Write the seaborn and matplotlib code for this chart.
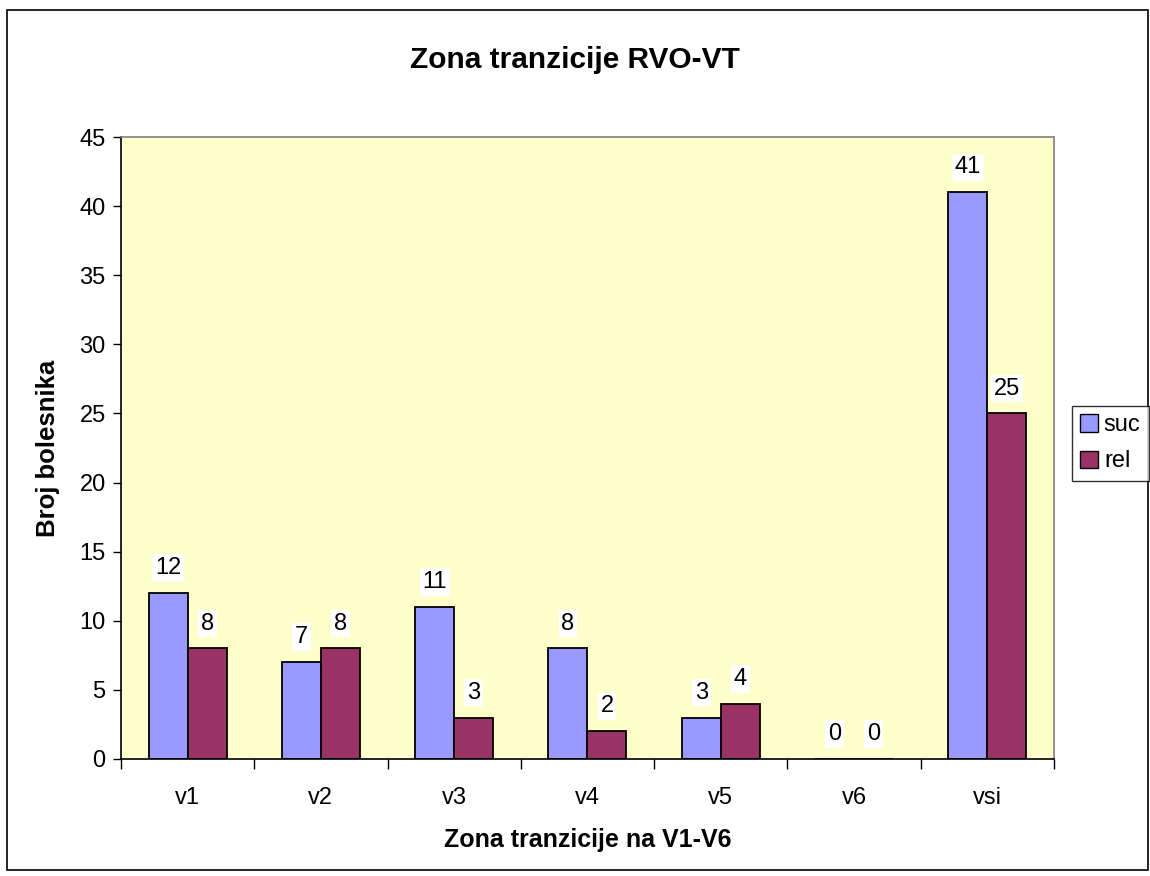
import seaborn as sns
import matplotlib.pyplot as plt
import pandas as pd
from matplotlib.patches import Rectangle

zones = ['v1', 'v2', 'v3', 'v4', 'v5', 'v6', 'vsi']
suc = [12, 7, 11, 8, 3, 0, 41]
rel = [8, 8, 3, 2, 4, 0, 25]

df = pd.DataFrame({
    'Zona': zones * 2,
    'Broj': suc + rel,
    'Serija': ['suc'] * len(zones) + ['rel'] * len(zones),
})

sns.set_style('white')
plt.rcParams['font.family'] = ['Liberation Sans', 'DejaVu Sans']
plt.rcParams['text.color'] = 'black'
plt.rcParams['axes.labelcolor'] = 'black'
plt.rcParams['xtick.color'] = 'black'
plt.rcParams['ytick.color'] = 'black'

fig = plt.figure(figsize=(11.5, 8.76), dpi=100)
ax = fig.add_axes([0.1052, 0.1336, 0.8113, 0.71])
ax.set_facecolor('#FFFFCC')

sns.barplot(data=df, x='Zona', y='Broj', hue='Serija', hue_order=['suc', 'rel'],
            palette={'suc': '#9999FF', 'rel': '#993366'}, width=0.585,
            saturation=1, edgecolor='black', linewidth=1.3, ax=ax, legend=False)

for cont in ax.containers:
    ax.bar_label(cont, padding=10, fontsize=17,
                 bbox=dict(facecolor='white', edgecolor='none', pad=2))

ax.set_xlim(-0.5, 6.5)
ax.set_ylim(0, 45)
ax.set_yticks(range(0, 46, 5))
ax.tick_params(axis='y', which='major', length=6, width=1, direction='out',
               left=True, labelsize=17, color='black', pad=5)
ax.set_xticks(range(7))
ax.set_xticklabels(zones)
ax.tick_params(axis='x', which='major', length=0, pad=20, labelsize=17)
ax.set_xticks([i - 0.5 for i in range(8)], minor=True)
ax.tick_params(axis='x', which='minor', length=7, width=1, direction='out',
               bottom=True, color='black')

for s in ['left', 'bottom']:
    ax.spines[s].set_color('black')
    ax.spines[s].set_linewidth(1.2)
for s in ['top', 'right']:
    ax.spines[s].set_color('#808080')
    ax.spines[s].set_linewidth(1.2)

ax.set_xlabel('Zona tranzicije na V1-V6', fontsize=18, fontweight='bold', labelpad=14)
ax.set_ylabel('Broj bolesnika', fontsize=18.5, fontweight='bold', labelpad=14)
fig.text(0.5, 0.931, 'Zona tranzicije RVO-VT', ha='center', va='center',
         fontsize=21.5, fontweight='bold')

handles = [Rectangle((0, 0), 1, 1, facecolor='#9999FF', edgecolor='black'),
           Rectangle((0, 0), 1, 1, facecolor='#993366', edgecolor='black')]
leg = fig.legend(handles, ['suc', 'rel'], loc='upper left',
                 bbox_to_anchor=(1072 / 1150, 1 - 406 / 876), fontsize=17,
                 frameon=True, fancybox=False, edgecolor='black',
                 handlelength=0.75, handleheight=0.75, handletextpad=0.25,
                 borderpad=0.35, labelspacing=0.6, borderaxespad=0)
leg.get_frame().set_linewidth(1.0)

fig.patches.append(Rectangle((7 / 1150, 6 / 876), 1141 / 1150, 860 / 876,
                             transform=fig.transFigure, fill=False,
                             edgecolor='black', linewidth=1.2))

fig.savefig('out.png', dpi=100)
